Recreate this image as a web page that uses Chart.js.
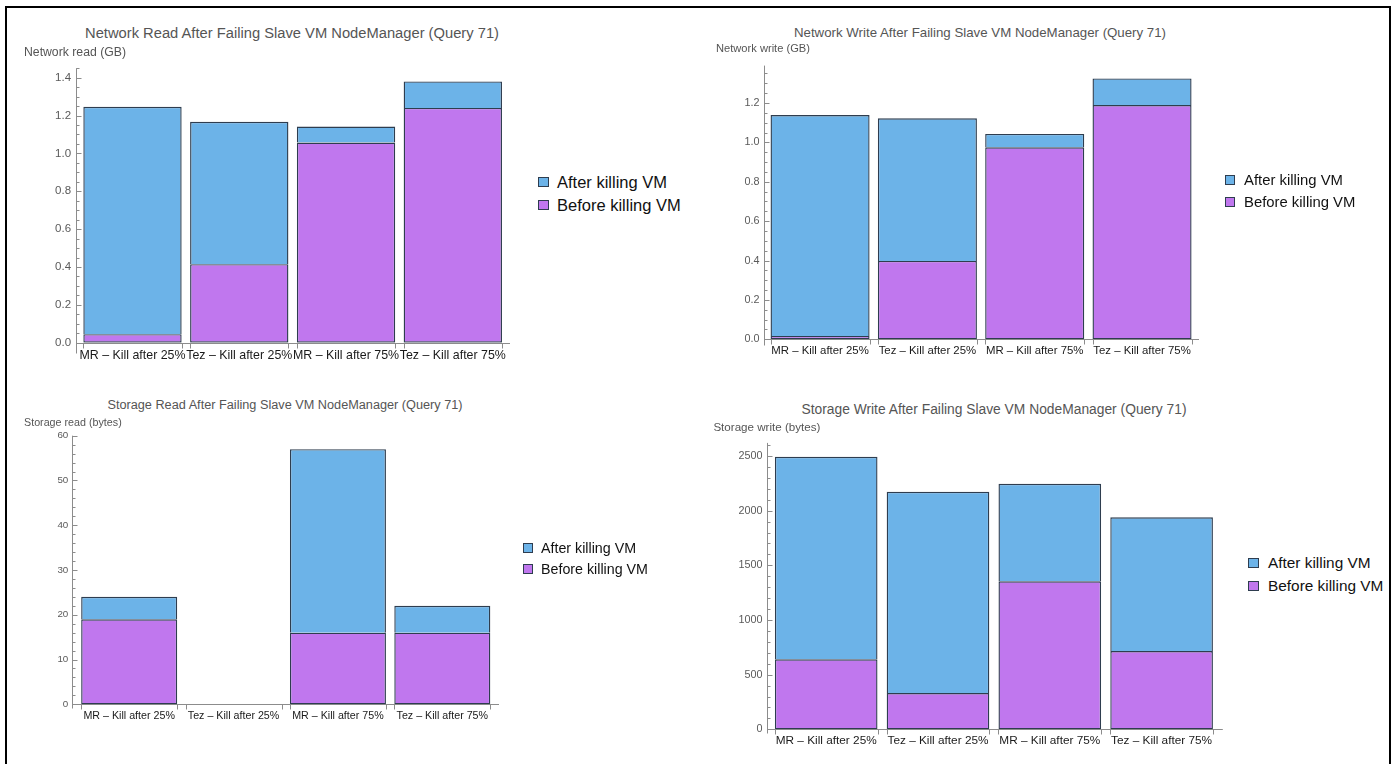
<!DOCTYPE html>
<html>
<head>
<meta charset="utf-8">
<script src="https://cdn.jsdelivr.net/npm/chart.js@4.4.1/dist/chart.umd.min.js"></script>
<style>
html,body{margin:0;padding:0;background:#fff;}
body{width:1397px;height:764px;overflow:hidden;position:relative;font-family:"Liberation Sans",Arial,Helvetica,sans-serif;}
.frame{position:absolute;left:5px;top:6px;width:1386px;height:800px;border-left:2px solid #000;border-top:2px solid #000;border-right:2px solid #000;box-sizing:border-box;}
canvas{position:absolute;}
.txt{position:absolute;white-space:nowrap;line-height:1;}
.sq{position:absolute;box-sizing:border-box;border:1px solid #2e3d4f;}
</style>
</head>
<body>
<div class="frame"></div>
<script>
// ---------- data ----------
const categories = ["MR \u2013 Kill after 25%", "Tez \u2013 Kill after 25%", "MR \u2013 Kill after 75%", "Tez \u2013 Kill after 75%"];
const seriesBefore = "Before killing VM";
const seriesAfter = "After killing VM";

const titles = [
  "Network Read After Failing Slave VM NodeManager (Query 71)",
  "Network Write After Failing Slave VM NodeManager (Query 71)",
  "Storage Read After Failing Slave VM NodeManager (Query 71)",
  "Storage Write After Failing Slave VM NodeManager (Query 71)"
];
const yAxisTitles = ["Network read (GB)", "Network write (GB)", "Storage read (bytes)", "Storage write (bytes)"];

const netReadBefore = [0.045, 0.415, 1.057, 1.240];
const netReadAfter  = [1.201, 0.752, 0.085, 0.140];
const netWriteBefore = [0.017, 0.398, 0.975, 1.190];
const netWriteAfter  = [1.122, 0.724, 0.068, 0.135];
const storageReadBefore = [19, 0, 16, 16];
const storageReadAfter  = [5, 0, 41, 6];
const storageWriteBefore = [640, 332, 1354, 716];
const storageWriteAfter  = [1853, 1841, 892, 1223];

const netReadTicks = [0, 0.2, 0.4, 0.6, 0.8, 1.0, 1.2, 1.4];
const netReadTickLabels = ["0.0", "0.2", "0.4", "0.6", "0.8", "1.0", "1.2", "1.4"];
const netWriteTicks = [0, 0.2, 0.4, 0.6, 0.8, 1.0, 1.2];
const netWriteTickLabels = ["0.0", "0.2", "0.4", "0.6", "0.8", "1.0", "1.2"];
const storageReadTicks = [0, 10, 20, 30, 40, 50, 60];
const storageReadTickLabels = ["0", "10", "20", "30", "40", "50", "60"];
const storageWriteTicks = [0, 500, 1000, 1500, 2000, 2500];
const storageWriteTickLabels = ["0", "500", "1000", "1500", "2000", "2500"];

// ---------- style / layout ----------
const FAMILY = '"Liberation Sans", Arial, Helvetica, sans-serif';
const BLUE = "#6cb3e8";
const PURPLE = "#c077ee";
const EDGE = "#2e3d4f";
const AXIS = "#8c8c8c";

const panels = [
  { title: titles[0], yTitle: yAxisTitles[0], before: netReadBefore, after: netReadAfter,
    ticks: netReadTicks, tickLabels: netReadTickLabels, max: 1.45, minor: 0.05,
    L: 79.1, R: 506.2, T: 68.2, B: 342.7, axisX: 76, axisEnd: 510, yExt: 10,
    barPct: 0.921, xFont: 12.4, xPad: 5.9, yFont: 11.5, yPad: 8,
    titleBox: { cx: 292, cy: 33, w: 415 }, yTitleBox: { x: 24, cy: 52, w: 102 },
    legend: { sqX: 538, sq: 10.5, textX: 557, w: 110, cy: [182, 205] } },
  { title: titles[1], yTitle: yAxisTitles[1], before: netWriteBefore, after: netWriteAfter,
    ticks: netWriteTicks, tickLabels: netWriteTickLabels, max: 1.39, minor: 0.05,
    L: 766.4, R: 1195.7, T: 65.6, B: 339.3, axisX: 764, axisEnd: 1199, yExt: 6,
    barPct: 0.923, xFont: 11.4, xPad: 4.9, yFont: 10.8, yPad: 7,
    titleBox: { cx: 980, cy: 33, w: 373 }, yTitleBox: { x: 716, cy: 49, w: 94 },
    legend: { sqX: 1225, sq: 10, textX: 1244, w: 99, cy: [180, 202] } },
  { title: titles[2], yTitle: yAxisTitles[2], before: storageReadBefore, after: storageReadAfter,
    ticks: storageReadTicks, tickLabels: storageReadTickLabels, max: 60, minor: 2,
    L: 77, R: 494.5, T: 435.7, B: 704.3, axisX: 72, axisEnd: 499, yExt: 4,
    barPct: 0.92, xFont: 10.7, xPad: 5, yFont: 9.8, yPad: 8.7,
    titleBox: { cx: 285, cy: 405, w: 356 }, yTitleBox: { x: 24, cy: 421.7, w: 97.7 },
    legend: { sqX: 523, sq: 9.5, textX: 541, w: 95, cy: [548, 569] } },
  { title: titles[3], yTitle: yAxisTitles[3], before: storageWriteBefore, after: storageWriteAfter,
    ticks: storageWriteTicks, tickLabels: storageWriteTickLabels, max: 2620, minor: 100,
    L: 770.3, R: 1217.5, T: 442.9, B: 729.3, axisX: 767, axisEnd: 1222.8, yExt: 4,
    barPct: 0.918, xFont: 11.8, xPad: 4.3, yFont: 10.8, yPad: 7.8,
    titleBox: { cx: 994, cy: 410, w: 386 }, yTitleBox: { x: 713.4, cy: 427.3, w: 107 },
    legend: { sqX: 1248, sq: 10.5, textX: 1268, w: 102.6, cy: [563, 586] } }
];

const measureCtx = document.createElement("canvas").getContext("2d");
function fitSize(text, target) {
  measureCtx.font = "100px " + FAMILY;
  return 100 * target / measureCtx.measureText(text).width;
}
function addText(text, x, cy, targetW, color, center) {
  const d = document.createElement("div");
  d.className = "txt";
  d.textContent = text;
  d.style.fontSize = fitSize(text, targetW).toFixed(2) + "px";
  d.style.color = color;
  d.style.left = x + "px";
  d.style.top = cy + "px";
  d.style.transform = center ? "translate(-50%,-50%)" : "translate(0,-50%)";
  document.body.appendChild(d);
}

function build(p) {
  const yW = 60, xH = 40;
  const x0 = Math.floor(p.L - yW), y0 = Math.floor(p.T - 20);
  const W = Math.ceil(p.R + 30) - x0, H = Math.ceil(p.B + xH) - y0;
  const padLeft = (p.L - yW) - x0, padTop = p.T - y0;
  const padRight = (x0 + W) - p.R, padBottom = (y0 + H) - xH - p.B;

  const cv = document.createElement("canvas");
  cv.width = W; cv.height = H;
  cv.style.left = x0 + "px"; cv.style.top = y0 + "px";
  cv.style.width = W + "px"; cv.style.height = H + "px";
  document.body.appendChild(cv);

  const axesPlugin = {
    id: "mmaAxes",
    beforeDatasetsDraw(chart) {
      const ctx = chart.ctx, ys = chart.scales.y;
      const ax = Math.round(p.axisX - x0) + 0.5;
      const bottom = Math.round(ys.getPixelForValue(0)) + 0.5;
      const top = ys.getPixelForValue(p.max);
      ctx.save();
      ctx.strokeStyle = AXIS;
      ctx.lineWidth = 1;
      ctx.beginPath();
      ctx.moveTo(ax, top); ctx.lineTo(ax, bottom + p.yExt);
      ctx.moveTo(ax, bottom); ctx.lineTo(p.axisEnd - x0, bottom);
      p.ticks.forEach(v => {
        const y = Math.round(ys.getPixelForValue(v)) + 0.5;
        ctx.moveTo(ax, y); ctx.lineTo(ax + 5, y);
      });
      for (let k = 1; k * p.minor <= p.max + 1e-9; k++) {
        const v = k * p.minor;
        if (p.ticks.some(t => Math.abs(t - v) < p.minor / 10)) continue;
        const y = Math.round(ys.getPixelForValue(v)) + 0.5;
        ctx.moveTo(ax, y); ctx.lineTo(ax + 3, y);
      }
      const meta = chart.getDatasetMeta(1);
      meta.data.forEach(bar => {
        const pr = bar.getProps(["x", "width"], true);
        [pr.x - pr.width / 2, pr.x + pr.width / 2].forEach(x => {
          const xx = Math.round(x) + 0.5;
          ctx.moveTo(xx, bottom); ctx.lineTo(xx, bottom + 5);
        });
      });
      ctx.stroke();
      ctx.restore();
    }
  };

  new Chart(cv, {
    type: "bar",
    data: {
      labels: categories,
      datasets: [
        { label: seriesBefore, data: p.before, backgroundColor: PURPLE, borderColor: EDGE, borderWidth: 1.4,
          borderSkipped: false, barPercentage: p.barPct, categoryPercentage: 1 },
        { label: seriesAfter, data: p.after, backgroundColor: BLUE, borderColor: EDGE, borderWidth: 1.4,
          borderSkipped: "bottom", barPercentage: p.barPct, categoryPercentage: 1 }
      ]
    },
    options: {
      responsive: false,
      animation: false,
      devicePixelRatio: 1,
      layout: { padding: { left: padLeft, top: padTop, right: padRight, bottom: padBottom } },
      plugins: { legend: { display: false }, title: { display: false }, tooltip: { enabled: false } },
      scales: {
        x: {
          stacked: true, offset: true,
          grid: { display: false, drawTicks: false }, border: { display: false },
          ticks: { autoSkip: false, maxRotation: 0, minRotation: 0, padding: p.xPad, color: "#1a1a1a",
                   font: { family: FAMILY, size: p.xFont } },
          afterFit: s => { s.height = xH; }
        },
        y: {
          stacked: true, min: 0, max: p.max,
          grid: { display: false, drawTicks: false }, border: { display: false },
          ticks: { padding: p.yPad, color: "#5a5a5a", font: { family: FAMILY, size: p.yFont },
                   callback: (v, i) => p.tickLabels[i] },
          afterBuildTicks: s => { s.ticks = p.ticks.map(v => ({ value: v })); },
          afterFit: s => { s.width = yW; }
        }
      }
    },
    plugins: [axesPlugin]
  });

  addText(p.title, p.titleBox.cx, p.titleBox.cy, p.titleBox.w, "#555555", true);
  addText(p.yTitle, p.yTitleBox.x, p.yTitleBox.cy, p.yTitleBox.w, "#555555", false);

  const lg = p.legend;
  [[seriesAfter, BLUE], [seriesBefore, PURPLE]].forEach((item, i) => {
    const sq = document.createElement("div");
    sq.className = "sq";
    sq.style.left = lg.sqX + "px";
    sq.style.top = (lg.cy[i] - lg.sq / 2) + "px";
    sq.style.width = lg.sq + "px";
    sq.style.height = lg.sq + "px";
    sq.style.background = item[1];
    document.body.appendChild(sq);
  });
  const fs = fitSize(seriesAfter, lg.w);
  [seriesAfter, seriesBefore].forEach((t, i) => {
    const d = document.createElement("div");
    d.className = "txt";
    d.textContent = t;
    d.style.fontSize = fs.toFixed(2) + "px";
    d.style.color = "#111";
    d.style.left = lg.textX + "px";
    d.style.top = lg.cy[i] + "px";
    d.style.transform = "translate(0,-50%)";
    document.body.appendChild(d);
  });
}

panels.forEach(build);
</script>
</body>
</html>
